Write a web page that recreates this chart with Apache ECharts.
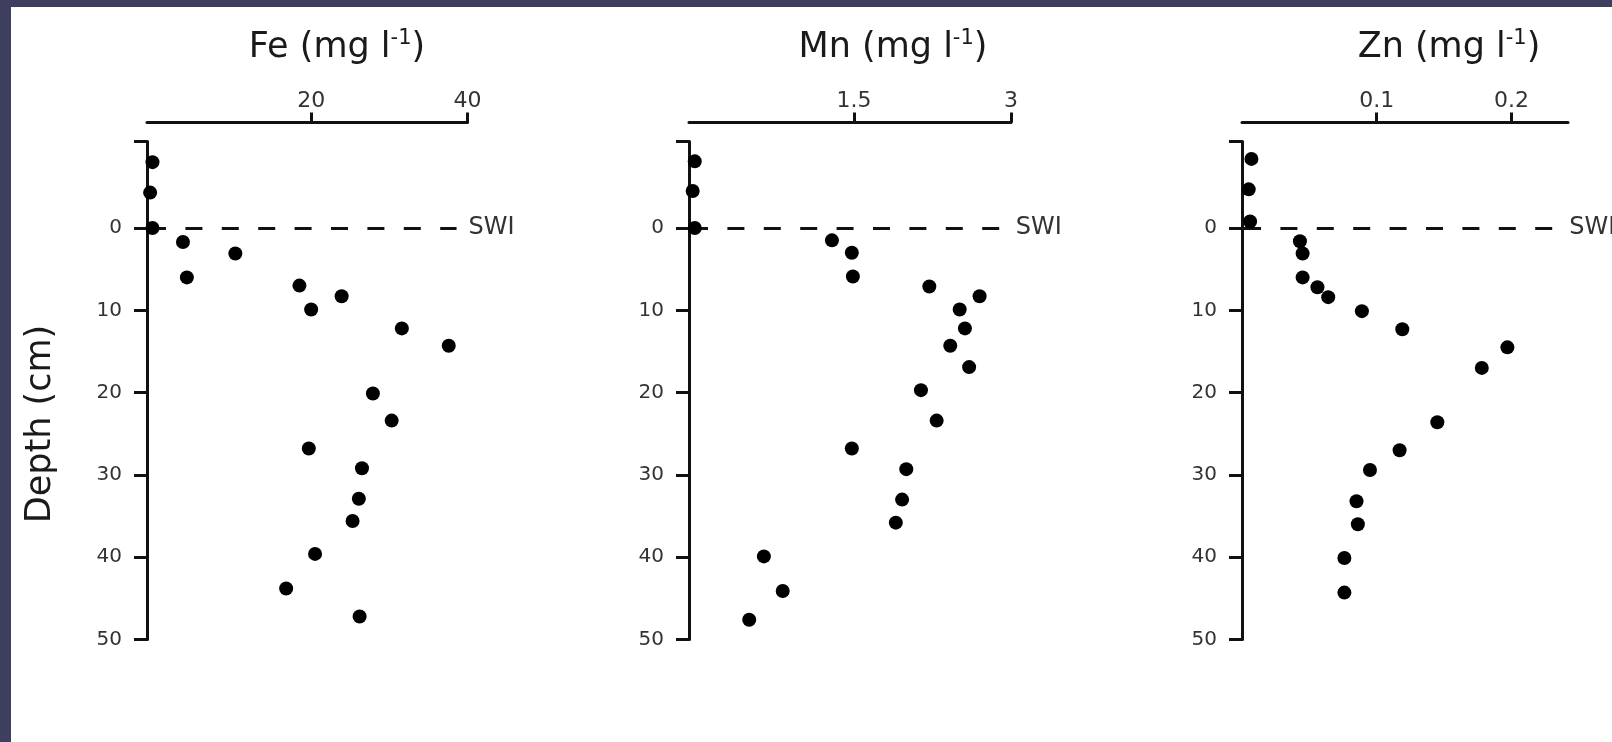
<!DOCTYPE html>
<html>
<head>
<meta charset="utf-8">
<script src="https://cdn.jsdelivr.net/npm/echarts@6/dist/echarts.min.js"></script>
<style>
html, body { margin: 0; padding: 0; background: #ffffff; }
#chart { width: 1612px; height: 742px; }
</style>
</head>
<body>
<div id="chart"></div>
<script>
// ---- data (depth in cm, concentration in mg/l) ----
const depthFe = [-8.0, -4.3, 0, 1.7, 3.1, 6.0, 7.0, 8.3, 9.9, 12.2, 14.3, 20.1, 23.4, 26.8, 29.2, 32.9, 35.6, 39.6, 43.8, 47.2];
const valuesFe = [-0.3, -0.6, -0.3, 3.6, 10.3, 4.1, 18.5, 23.9, 20.0, 31.6, 37.6, 27.9, 30.3, 19.7, 26.5, 26.1, 25.3, 20.5, 16.8, 26.2];

const depthMn = [-8.1, -4.5, 0, 1.5, 3.0, 5.9, 7.1, 8.3, 9.9, 12.2, 14.3, 16.9, 19.7, 23.4, 26.8, 29.3, 33.0, 35.8, 39.9, 44.1, 47.6];
const valuesMn = [-0.02, -0.04, -0.02, 1.29, 1.48, 1.49, 2.22, 2.70, 2.51, 2.56, 2.42, 2.60, 2.14, 2.29, 1.48, 2.00, 1.96, 1.90, 0.64, 0.82, 0.50];

const depthZn = [-8.4, -4.7, -0.8, 1.6, 3.1, 6.0, 7.2, 8.4, 10.1, 12.3, 14.5, 17.0, 23.6, 27.0, 29.4, 33.2, 36.0, 40.1, 44.3];
const valuesZn = [0.007, 0.005, 0.006, 0.043, 0.045, 0.045, 0.056, 0.064, 0.089, 0.119, 0.197, 0.178, 0.145, 0.117, 0.095, 0.085, 0.086, 0.076, 0.076];

const titlesMain = ['Fe (mg l', 'Mn (mg l', 'Zn (mg l'];
const titleSup = '-1';
const ticksFe = [20, 40];
const ticksMn = [1.5, 3];
const ticksZn = [0.1, 0.2];
const depthLabels = [0, 10, 20, 30, 40, 50];
const depthTop = -10.5;
const depthBottom = 50;
const swiLabel = 'SWI';
const depthName = 'Depth (cm)';

// ---- layout ----
const FONT = 'DejaVu Sans';
const GRID_TOP = 141.6;
const GRID_H = 497.9;
const panels = [
  { x: valuesFe, y: depthFe, ticks: ticksFe, min: -1, max: 40, left: 147, width: 320.5, swiEnd: 38.6, swiGap: 12, titleX: 337 },
  { x: valuesMn, y: depthMn, ticks: ticksMn, min: -0.075, max: 3, left: 689, width: 322, swiEnd: 2.93, swiGap: 12, titleX: 893 },
  { x: valuesZn, y: depthZn, ticks: ticksZn, min: 0, max: 0.242, left: 1242, width: 326, swiEnd: 0.237, swiGap: 8, titleX: 1449 }
];

const axisColor = '#111';
const labelColor = '#333';

const grids = [], xAxes = [], yAxes = [], series = [], graphics = [];

panels.forEach((p, i) => {
  grids.push({ left: p.left, top: GRID_TOP, width: p.width, height: GRID_H, containLabel: false });
  xAxes.push({
    gridIndex: i, type: 'value', position: 'top', offset: 19,
    min: p.min, max: p.max,
    axisLine: { show: true, onZero: false, lineStyle: { color: axisColor, width: 3 } },
    axisTick: { show: true, inside: false, length: 10, customValues: p.ticks, lineStyle: { color: axisColor, width: 3 } },
    axisLabel: { show: true, customValues: p.ticks, margin: 10, color: labelColor, fontSize: 22, fontFamily: FONT },
    splitLine: { show: false }
  });
  yAxes.push({
    gridIndex: i, type: 'value', inverse: true,
    min: depthTop, max: depthBottom,
    axisLine: { show: true, onZero: false, lineStyle: { color: axisColor, width: 3 } },
    axisTick: { show: true, length: 13, customValues: [depthTop].concat(depthLabels), lineStyle: { color: axisColor, width: 3 } },
    axisLabel: { show: true, customValues: depthLabels, margin: 25, color: labelColor, fontSize: 20, fontFamily: FONT },
    splitLine: { show: false }
  });
  series.push({
    type: 'scatter', xAxisIndex: i, yAxisIndex: i,
    data: p.x.map((v, k) => [v, p.y[k]]),
    symbol: 'circle', symbolSize: 14,
    itemStyle: { color: '#000', opacity: 1 },
    z: 5,
    markLine: {
      silent: true, symbol: ['none', 'none'], animation: false,
      lineStyle: { type: [17, 19.4], dashOffset: -2, color: axisColor, width: 3, opacity: 1 },
      label: { show: true, position: 'end', formatter: swiLabel, distance: p.swiGap, color: labelColor, fontSize: 24, fontFamily: FONT },
      emphasis: { disabled: true },
      data: [[{ coord: [p.min, 0] }, { coord: [p.swiEnd, 0] }]]
    }
  });
  graphics.push({
    type: 'text', x: p.titleX, y: 48, z: 10,
    style: {
      text: '{m|' + titlesMain[i] + '}{s|' + titleSup + '}{m|)}',
      align: 'center', verticalAlign: 'middle',
      textAlign: 'center', textVerticalAlign: 'middle',
      rich: {
        m: { fontSize: 35, fontFamily: FONT, fill: '#1a1a1a', lineHeight: 40 },
        s: { fontSize: 21, fontFamily: FONT, fill: '#1a1a1a', verticalAlign: 'top', lineHeight: 21 }
      }
    }
  });
});

// frame bands
graphics.push({ type: 'rect', shape: { x: 0, y: 0, width: 1612, height: 7 }, style: { fill: '#3e3e5e' }, z: 20 });
graphics.push({ type: 'rect', shape: { x: 0, y: 0, width: 11, height: 742 }, style: { fill: '#3e3e5e' }, z: 20 });
// y axis name
graphics.push({
  type: 'text', x: 41, y: 424, rotation: Math.PI / 2, z: 10,
  style: { text: depthName, font: '35px "DejaVu Sans"', fill: '#1a1a1a', align: 'center', verticalAlign: 'middle', textAlign: 'center', textVerticalAlign: 'middle' }
});

const chart = echarts.init(document.getElementById('chart'), null, { renderer: 'canvas' });
chart.setOption({
  animation: false,
  backgroundColor: '#ffffff',
  grid: grids,
  xAxis: xAxes,
  yAxis: yAxes,
  series: series,
  graphic: graphics
});
</script>
</body>
</html>
